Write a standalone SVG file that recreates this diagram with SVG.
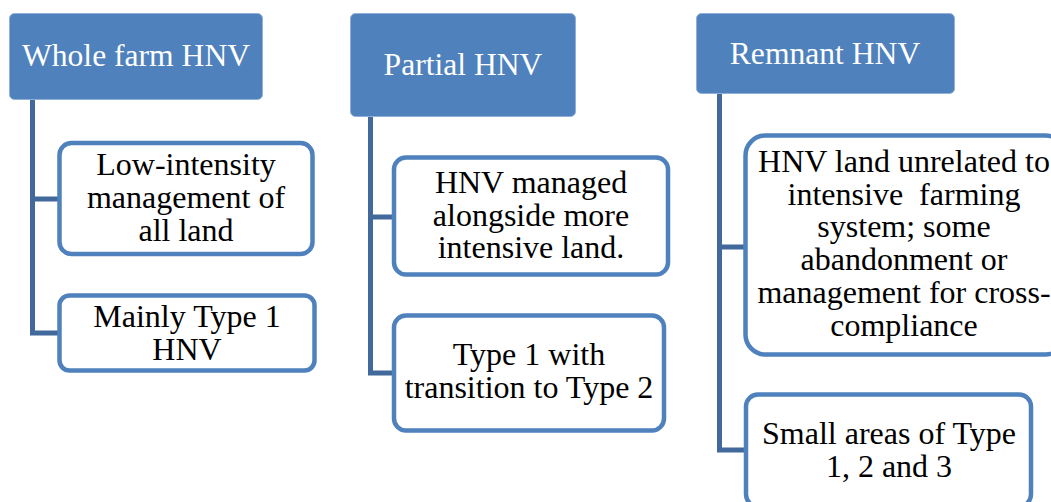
<svg xmlns="http://www.w3.org/2000/svg" width="1051" height="502" viewBox="0 0 1051 502">
<style>
.hdr{fill:#4F81BD;stroke:#8FB0D8;stroke-width:1}
.hdrt{font-size:31.6px;fill:#FFFFFF;text-anchor:middle}
.box{fill:#FFFFFF;stroke:#4F81BD;stroke-width:4.5}
.boxt{font-size:32px;fill:#000000;text-anchor:middle;white-space:pre}
.con{fill:none;stroke:#41699C;stroke-width:5}
</style>
<rect width="1051" height="502" fill="#FFFFFF"/>
<g id="connectors">
<path class="con" d="M32.5,100 V333 H60 M32.5,199 H60"/>
<path class="con" d="M370.5,117 V373 H394 M370.5,217 H394"/>
<path class="con" d="M719.5,94 V450 H746 M719.5,247 H746"/>
</g>
<g font-family="'Liberation Serif', 'DejaVu Serif', serif">
<g id="h1">
<rect class="hdr" x="9.5" y="13.5" width="253" height="86" rx="5"/>
<text class="hdrt" x="136" y="65.5">Whole farm HNV</text>
</g>
<g id="h2">
<rect class="hdr" x="350.5" y="13.5" width="225" height="103" rx="5"/>
<text class="hdrt" x="463" y="75">Partial HNV</text>
</g>
<g id="h3">
<rect class="hdr" x="696.5" y="13.5" width="258" height="80" rx="5"/>
<text class="hdrt" x="825" y="64">Remnant HNV</text>
</g>
<g id="c1">
<rect class="box" x="59.5" y="143" width="253" height="111" rx="12"/>
<text class="boxt" x="186" y="175">Low-intensity</text>
<text class="boxt" x="186" y="208">management of</text>
<text class="boxt" x="186" y="241">all land</text>
</g>
<g id="c2">
<rect class="box" x="59.5" y="295.5" width="255" height="75" rx="10"/>
<text class="boxt" x="187" y="327">Mainly Type 1</text>
<text class="boxt" x="187" y="360">HNV</text>
</g>
<g id="c3">
<rect class="box" x="394" y="157.5" width="274" height="117" rx="12"/>
<text class="boxt" x="531" y="193">HNV managed</text>
<text class="boxt" x="531" y="225.5">alongside more</text>
<text class="boxt" x="531" y="258">intensive land.</text>
</g>
<g id="c4">
<rect class="box" x="394" y="315.5" width="270" height="115" rx="12"/>
<text class="boxt" x="529" y="365">Type 1 with</text>
<text class="boxt" x="529" y="398">transition to Type 2</text>
</g>
<g id="c5">
<rect class="box" x="745.5" y="135.5" width="320" height="219" rx="20"/>
<text class="boxt" x="904" y="172">HNV land unrelated to</text>
<text class="boxt" x="904" y="204.5">intensive  farming</text>
<text class="boxt" x="904" y="237">system; some</text>
<text class="boxt" x="904" y="270">abandonment or</text>
<text class="boxt" x="904" y="303">management for cross-</text>
<text class="boxt" x="904" y="336">compliance</text>
</g>
<g id="c6">
<rect class="box" x="746" y="394.5" width="285" height="112" rx="12"/>
<text class="boxt" x="889" y="444">Small areas of Type</text>
<text class="boxt" x="889" y="477">1, 2 and 3</text>
</g>
</g>
</svg>
